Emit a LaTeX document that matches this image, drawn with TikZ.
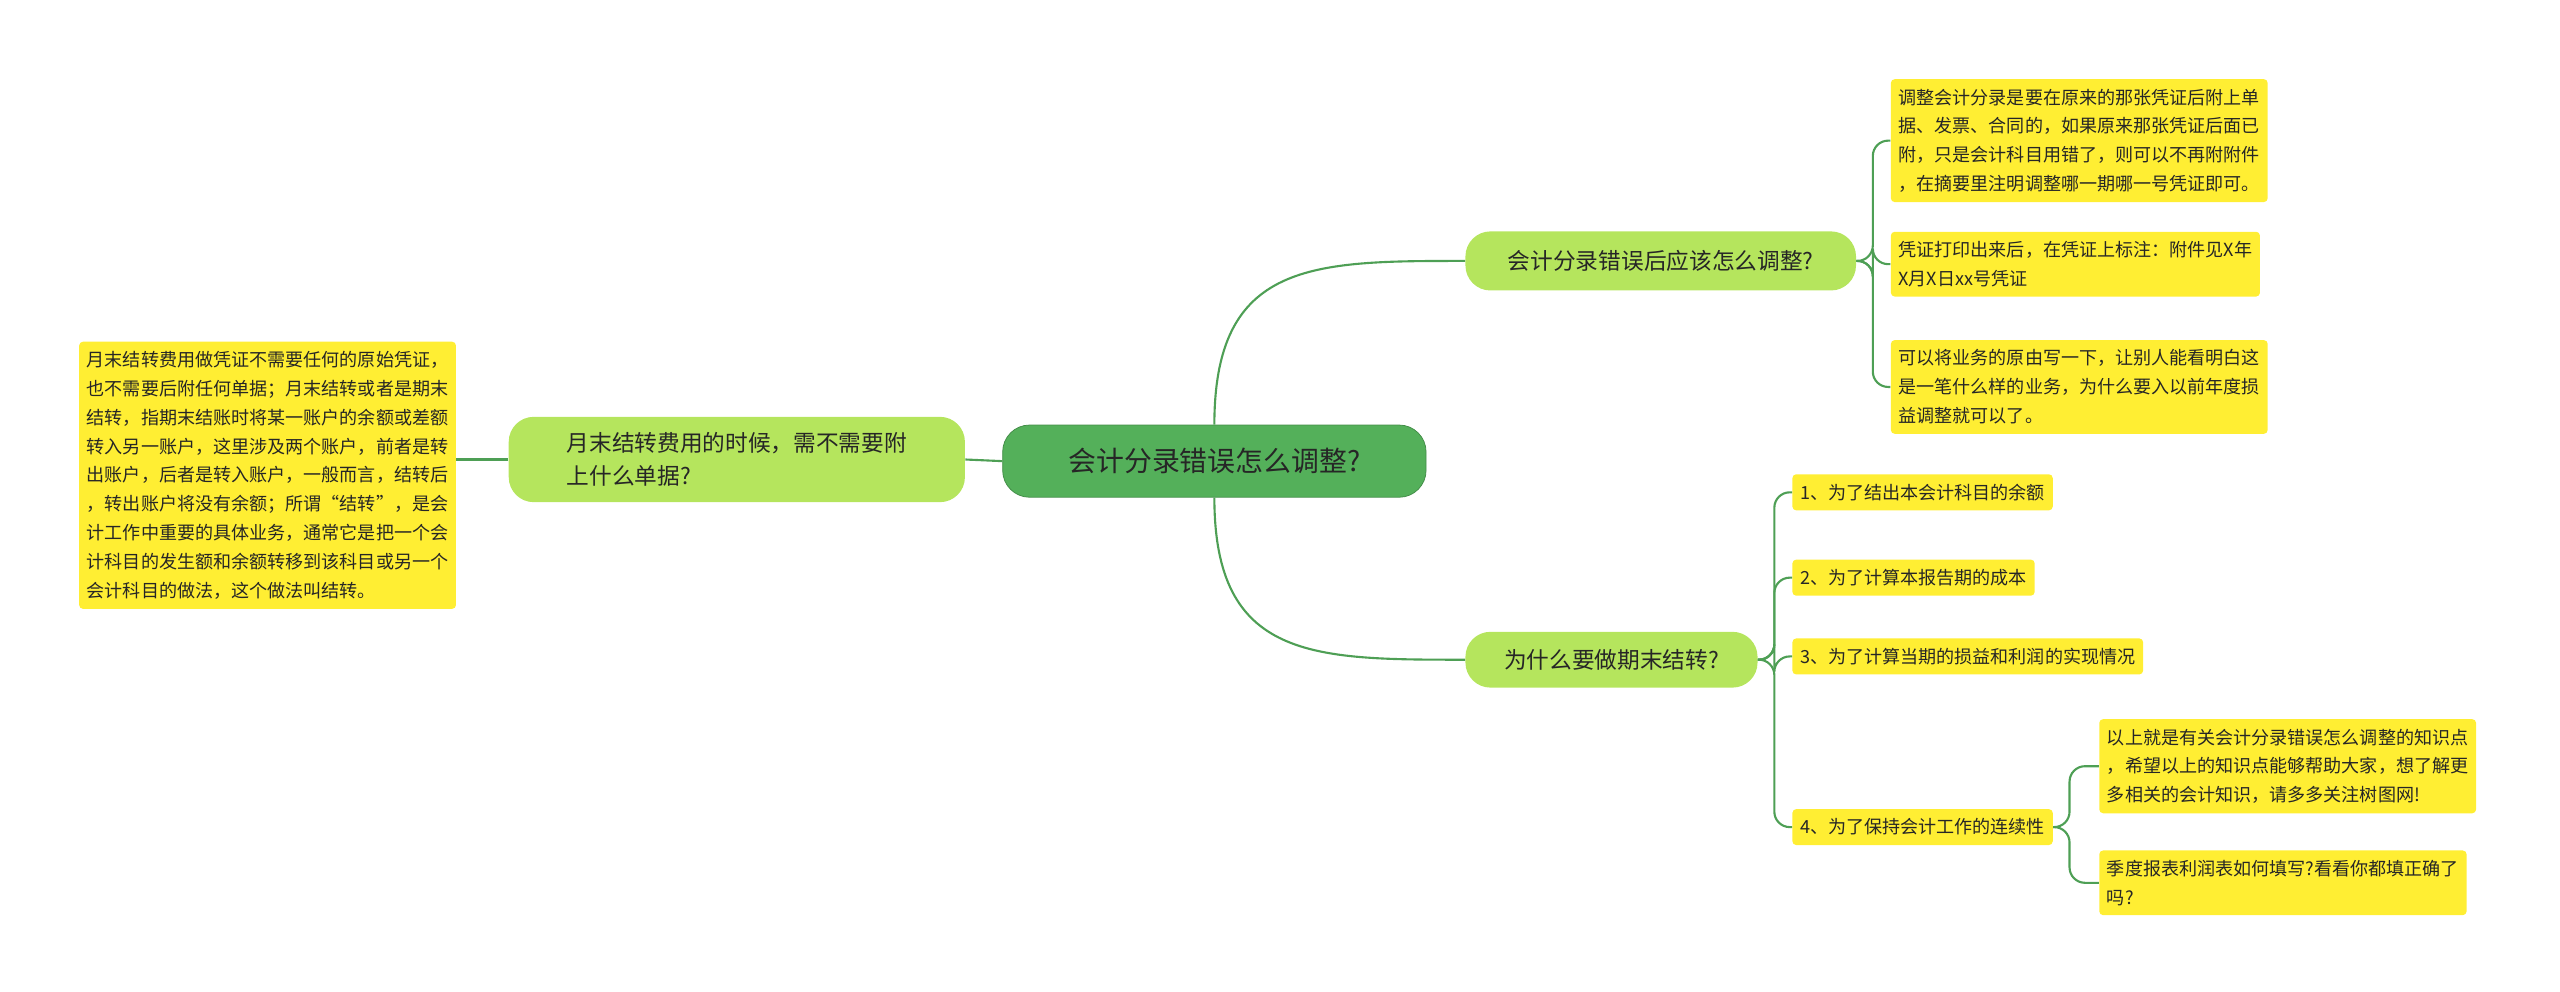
\documentclass[tikz,border=0pt]{standalone}
\usepackage{fontspec}
\setmainfont{Noto Sans CJK SC}
\XeTeXlinebreaklocale "zh"
\definecolor{rootgreen}{HTML}{54B05A}
\definecolor{subgreen}{HTML}{B5E55D}
\definecolor{leafyellow}{HTML}{FFEE33}
\definecolor{linegreen}{HTML}{4E9F55}
\tikzset{
  rootbox/.style={draw=rootgreen!80!black, fill=rootgreen, rounded corners=14pt, text=black!85,
    font=\fontsize{14.5}{18}\selectfont, minimum width=258*0.03cm, minimum height=44*0.03cm},
  subbox/.style={fill=subgreen, rounded corners=13pt, text=black!85,
    font=\fontsize{11.8}{17}\selectfont, align=left, inner xsep=12pt},
  leafbox/.style={fill=leafyellow, rounded corners=2pt, text=black!85,
    font=\fontsize{9.4}{15}\selectfont, align=left, inner xsep=4pt, inner ysep=5pt},
  branch/.style={draw=linegreen, line width=1.1pt},
  twig/.style={draw=linegreen, line width=1.1pt, rounded corners=8pt}
}
\begin{document}
\begin{tikzpicture}[x=0.03cm, y=-0.03cm]
  \useasboundingbox (0,0) rectangle (1560,604);
  % main topic
  \node[rootbox] (root) at (740,281) {会计分录错误怎么调整?};
  % first level
  \node[subbox, minimum width=238*0.03cm, minimum height=36*0.03cm] (adjust) at (1012,159) {会计分录错误后应该怎么调整?};
  \node[subbox, minimum width=178*0.03cm, minimum height=34*0.03cm] (why) at (982,402) {为什么要做期末结转?};
  \node[subbox, minimum width=278*0.03cm, minimum height=52*0.03cm] (month) at (449,280) {月末结转费用的时候，需不需要附\\上什么单据?};
  % leaves
  \node[leafbox, anchor=north west] (a1) at (1152,48) {调整会计分录是要在原来的那张凭证后附上单\\据、发票、合同的，如果原来那张凭证后面已\\附，只是会计科目用错了，则可以不再附附件\\，在摘要里注明调整哪一期哪一号凭证即可。};
  \node[leafbox, anchor=north west] (a2) at (1152,141) {凭证打印出来后，在凭证上标注：附件见X年\\X月X日xx号凭证};
  \node[leafbox, anchor=north west] (a3) at (1152,207) {可以将业务的原由写一下，让别人能看明白这\\是一笔什么样的业务，为什么要入以前年度损\\益调整就可以了。};
  \node[leafbox, anchor=west] (b1) at (1092,300) {1、为了结出本会计科目的余额};
  \node[leafbox, anchor=west] (b2) at (1092,352) {2、为了计算本报告期的成本};
  \node[leafbox, anchor=west] (b3) at (1092,400) {3、为了计算当期的损益和利润的实现情况};
  \node[leafbox, anchor=west] (b4) at (1092,504) {4、为了保持会计工作的连续性};
  \node[leafbox, anchor=north west] (c1) at (1279,438) {以上就是有关会计分录错误怎么调整的知识点\\，希望以上的知识点能够帮助大家，想了解更\\多相关的会计知识，请多多关注树图网!};
  \node[leafbox, anchor=north west] (c2) at (1279,518) {季度报表利润表如何填写?看看你都填正确了\\吗?};
  \node[leafbox, anchor=north west] (m1) at (48,208) {月末结转费用做凭证不需要任何的原始凭证，\\也不需要后附任何单据；月末结转或者是期末\\结转，指期末结账时将某一账户的余额或差额\\转入另一账户，这里涉及两个账户，前者是转\\出账户，后者是转入账户，一般而言，结转后\\，转出账户将没有余额；所谓“结转”，是会\\计工作中重要的具体业务，通常它是把一个会\\计科目的发生额和余额转移到该科目或另一个\\会计科目的做法，这个做法叫结转。};
  % connectors
  \draw[branch] (root.north) .. controls (740,159) and (800,159) .. (adjust.west);
  \draw[branch] (root.south) .. controls (740,402) and (800,402) .. (why.west);
  \draw[branch] (root.west) -- (month.east);
  \draw[branch] (month.west) -- (month.west -| m1.east);
  \foreach \leaf in {a1,a2,a3}
    \draw[twig] (adjust.east) -- ++(10,0) |- (\leaf.west);
  \foreach \leaf in {b1,b2,b3,b4}
    \draw[twig] (why.east) -- ++(10,0) |- (\leaf.west);
  \foreach \leaf in {c1,c2}
    \draw[twig] (b4.east) -- ++(10,0) |- (\leaf.west);
\end{tikzpicture}
\end{document}
